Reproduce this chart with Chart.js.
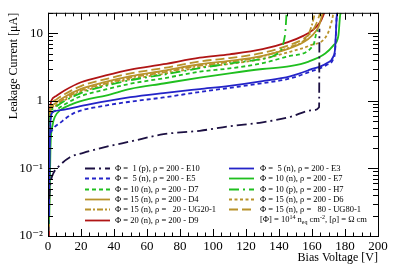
<!DOCTYPE html>
<html>
<head>
<meta charset="utf-8">
<script src="https://cdn.jsdelivr.net/npm/chart.js@4.4.1/dist/chart.umd.min.js"></script>
<style>
  body { margin: 0; background: #fff; }
  #wrap { width: 398px; height: 271px; }
</style>
</head>
<body>
<div id="wrap"><canvas id="ivChart" width="398" height="271"></canvas></div>
<script>
// axis ticks
const xTicks = [0, 20, 40, 60, 80, 100, 120, 140, 160, 180, 200];
const yTickValues = [0.01, 0.1, 1, 10];
const yTickLabels = ['10⁻²', '10⁻¹', '1', '10'];

// legend labels, in legend order (left column, right column, row by row)
const seriesLabels = [
    'Φ =  1 (p), ρ = 200 - E10', 'Φ =  5 (n), ρ = 200 - E3',
    'Φ =  5 (n), ρ = 200 - E5', 'Φ = 10 (n), ρ = 200 - E7',
    'Φ = 10 (n), ρ = 200 - D7', 'Φ = 10 (p), ρ = 200 - H7',
    'Φ = 15 (n), ρ = 200 - D4', 'Φ = 15 (n), ρ = 200 - D6',
    'Φ = 15 (n), ρ =   20 - UG20-1', 'Φ = 15 (n), ρ =   80 - UG80-1',
    'Φ = 20 (n), ρ = 200 - D9',
];

// bias voltage [V] and leakage current [uA] of each sensor
const vE10 = [0.6, 1.5, 3.2, 6.2, 13.3, 21.4, 35.6, 50, 70, 92, 110, 130, 147, 160, 164.3, 164.5];
const iE10 = [0.035, 0.06, 0.084, 0.105, 0.146, 0.17, 0.21, 0.25, 0.32, 0.36, 0.42, 0.48, 0.58, 0.72, 0.8, 11.6];

const vE3 = [0.6, 1.2, 2, 3.2, 10, 25, 50, 70, 92, 110, 130, 146.7, 158.8, 168.9, 172.9, 174, 175, 175.2];
const iE3 = [0.02, 0.3, 0.62, 0.69, 0.74, 0.885, 1.13, 1.3, 1.49, 1.66, 1.95, 2.3, 2.88, 3.6, 4.5, 5.9, 17.9, 20];

const vE5 = [0.3, 0.5, 0.8, 1.2, 3, 7.3, 15.4, 35.6, 50, 70, 92, 110, 130, 147, 159, 169, 173, 174, 175, 175.3];
const iE5 = [0.012, 0.14, 0.24, 0.3, 0.38, 0.47, 0.65, 0.855, 0.97, 1.12, 1.35, 1.55, 1.82, 2.15, 2.7, 3.4, 4.2, 5.5, 18, 20];

const vE7 = [0.8, 1.5, 2.8, 4.2, 7.3, 15, 25, 35, 50, 70, 92, 110, 130, 146.7, 158, 168, 173, 176, 177, 177.4];
const iE7 = [0.02, 0.2, 0.44, 0.58, 0.72, 0.9, 1.07, 1.19, 1.5, 1.8, 2.2, 2.55, 2.95, 3.25, 3.8, 5.0, 6.6, 9.2, 17.9, 20];

const vD7 = [0.5, 1, 2, 5, 10, 20, 35, 50, 70, 92, 110, 130, 146.7, 160.8, 162.8, 163.8];
const iD7 = [0.015, 0.3, 0.6, 0.73, 0.88, 1.17, 1.47, 1.79, 2.15, 2.69, 3.01, 3.59, 4.6, 6.6, 10.3, 11];

const vH7 = [0.5, 1, 2, 5, 10, 20, 35, 50, 70, 92, 110, 130, 137.6, 143.6, 144.6];
const iH7 = [0.015, 0.35, 0.68, 0.82, 0.99, 1.3, 1.66, 2.02, 2.43, 3.04, 3.55, 4.16, 4.75, 9.2, 20];

const vD4 = [0.6, 1, 2, 5, 10, 20, 35, 50, 70, 92, 110, 130, 145, 155, 160, 164, 166.5];
const iD4 = [0.012, 0.45, 0.8, 0.94, 1.14, 1.5, 1.9, 2.31, 2.78, 3.47, 3.89, 4.63, 5.8, 7.4, 9.2, 12.5, 20];

const vD6 = [0.6, 1, 2, 5, 10, 20, 35, 50, 70, 92, 110, 130, 146.7, 158.8, 168.9, 172, 173];
const iD6 = [0.012, 0.35, 0.72, 0.85, 1.02, 1.35, 1.71, 2.08, 2.5, 3.12, 3.5, 4.17, 5.3, 6.6, 9.2, 15.1, 20];

const vUG20 = [0.6, 1, 2, 5, 10, 20, 35, 50, 70, 92, 110, 130, 146.7, 156.8, 159.8, 161.8];
const iUG20 = [0.012, 0.4, 0.75, 0.88, 1.07, 1.42, 1.8, 2.2, 2.64, 3.3, 3.74, 4.55, 6.25, 8.7, 12.8, 20];

const vUG80 = [0.6, 1, 2, 5, 10, 20, 35, 50, 70, 92, 110, 130, 145, 155, 160, 163, 165];
const iUG80 = [0.012, 0.45, 0.88, 1.04, 1.25, 1.65, 2.09, 2.54, 3.05, 3.82, 4.28, 5.1, 6.5, 8.3, 10.6, 14.5, 20];

const vD9 = [0.6, 1.0, 1.5, 2, 5, 10, 20, 35, 50, 70, 92, 110, 130, 145, 155, 160, 165, 167.5];
const iD9 = [0.01, 0.45, 0.85, 1.0, 1.18, 1.42, 1.88, 2.37, 2.89, 3.47, 4.34, 4.86, 5.79, 7.3, 9.2, 10.9, 14.6, 20];

const cBlack = '#1c1042';
const cBlue = '#2424c8';
const cGreen = '#1fbf1f';
const cGold = '#b8922a';
const cRed = '#b01515';

function pairs(v, i) {
    return v.map((x, k) => ({ x: x, y: i[k] }));
}

const series = [
    [vE10, iE10, cBlack, [10, 4, 2, 4]],
    [vE3, iE3, cBlue, []],
    [vE5, iE5, cBlue, [4, 3]],
    [vE7, iE7, cGreen, []],
    [vD7, iD7, cGreen, [4, 3]],
    [vH7, iH7, cGreen, [10, 4, 2, 4]],
    [vD4, iD4, cGold, []],
    [vD6, iD6, cGold, [3, 2.5]],
    [vUG20, iUG20, cGold, [6, 2, 2, 2]],
    [vUG80, iUG80, cGold, [9, 4]],
    [vD9, iD9, cRed, []],
];

let datasets = [];
series.forEach((s, k) => {
    datasets.push({
        label: seriesLabels[k],
        data: pairs(s[0], s[1]),
        borderColor: s[2],
        borderDash: s[3],
    });
});

const serif = '"Liberation Serif", "DejaVu Serif", serif';
Chart.defaults.font.family = serif;
Chart.defaults.color = '#000';

// ROOT-like frame with inward ticks on all four sides
const frameTicks = {
    id: 'frameTicks',
    afterDraw(chart) {
        const { ctx, chartArea: a, scales: { x, y } } = chart;
        ctx.save();
        ctx.strokeStyle = '#000';
        ctx.lineWidth = 1;
        ctx.beginPath();
        for (let v = 0; v <= 200; v += 5) {
            const px = Math.round(x.getPixelForValue(v)) + 0.5;
            const len = v % 20 === 0 ? 7 : 3.5;
            ctx.moveTo(px, a.bottom); ctx.lineTo(px, a.bottom - len);
            ctx.moveTo(px, a.top); ctx.lineTo(px, a.top + len);
        }
        for (let e = -2; e <= 1; e++) {
            for (let m = 1; m <= 9; m++) {
                const v = m * Math.pow(10, e);
                if (v > y.max) break;
                const py = Math.round(y.getPixelForValue(v)) + 0.5;
                const len = m === 1 ? 10 : 5;
                ctx.moveTo(a.left, py); ctx.lineTo(a.left + len, py);
                ctx.moveTo(a.right, py); ctx.lineTo(a.right - len, py);
            }
        }
        ctx.stroke();
        ctx.strokeRect(a.left + 0.5, a.top + 0.5, a.right - a.left, a.bottom - a.top);
        ctx.restore();
    }
};

// two-column legend inside the frame
const rootLegend = {
    id: 'rootLegend',
    afterDraw(chart) {
        const ctx = chart.ctx;
        const colLine = [85, 229];
        const colText = [115, 260];
        const rowY = (r) => 168 + r * 10.3;
        ctx.save();
        ctx.font = '8.5px ' + serif;
        ctx.textBaseline = 'middle';
        ctx.fillStyle = '#000';
        chart.data.datasets.forEach((ds, k) => {
            const c = k % 2, r = Math.floor(k / 2);
            const y = Math.round(rowY(r)) + 0.5;
            ctx.strokeStyle = ds.borderColor;
            ctx.lineWidth = 1.8;
            ctx.setLineDash(ds.borderDash);
            ctx.beginPath();
            ctx.moveTo(colLine[c], y);
            ctx.lineTo(colLine[c] + 25, y);
            ctx.stroke();
            ctx.fillText(ds.label, colText[c], y);
        });
        // units note
        let x = colText[1];
        const y = rowY(5) + 0.5;
        const parts = [
            ['[Φ] = 10', 8.5, 0], ['14', 6, -3], [' n', 8.5, 0], ['eq', 6, 2.5],
            [' cm', 8.5, 0], ['-2', 6, -3], [', [ρ] = Ω cm', 8.5, 0],
        ];
        parts.forEach(([t, size, dy]) => {
            ctx.font = size + 'px ' + serif;
            ctx.fillText(t, x, y + dy);
            x += ctx.measureText(t).width;
        });
        ctx.restore();
    }
};

const ctx = document.getElementById('ivChart').getContext('2d');
window.ivChart = new Chart(ctx, {
    type: 'line',
    data: { datasets: datasets },
    options: {
        responsive: false,
        animation: false,
        devicePixelRatio: 1,
        layout: { padding: { top: 8, right: 20, left: 0, bottom: 0 } },
        plugins: {
            legend: { display: false },
            tooltip: { enabled: false },
        },
        elements: {
            point: { radius: 0 },
            line: { borderWidth: 1.8, cubicInterpolationMode: 'monotone', fill: false },
        },
        scales: {
            x: {
                type: 'linear',
                min: 0,
                max: 200,
                afterBuildTicks: (s) => { s.ticks = xTicks.map((v) => ({ value: v })); },
                afterFit: (s) => { s.height = 35; },
                grid: { display: false, drawTicks: false },
                border: { display: false },
                ticks: { font: { size: 13 }, padding: 3, maxRotation: 0, autoSkip: false },
                title: {
                    display: true,
                    text: 'Bias Voltage [V]',
                    align: 'end',
                    font: { size: 12 },
                    padding: { top: 0, bottom: 6 },
                },
            },
            y: {
                type: 'logarithmic',
                min: 0.01,
                max: 20,
                afterBuildTicks: (s) => { s.ticks = yTickValues.map((v) => ({ value: v })); },
                afterFit: (s) => { s.width = 48; },
                grid: { display: false, drawTicks: false },
                border: { display: false },
                ticks: {
                    font: { size: 13 },
                    padding: 5,
                    autoSkip: false,
                    callback: (value, index) => yTickLabels[index],
                },
                title: {
                    display: true,
                    text: 'Leakage Current [μA]',
                    align: 'end',
                    font: { size: 12 },
                    padding: { top: 7, bottom: 0 },
                },
            },
        },
    },
    plugins: [frameTicks, rootLegend],
});
</script>
</body>
</html>
